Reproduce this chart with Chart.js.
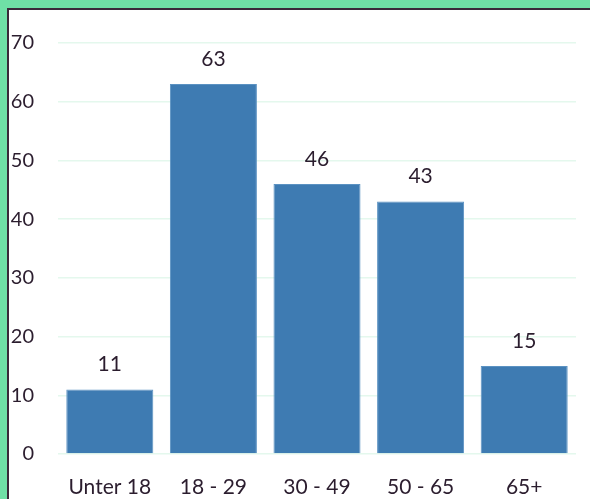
<!DOCTYPE html>
<html>
<head>
<meta charset="utf-8">
<script src="https://cdn.jsdelivr.net/npm/chart.js@4"></script>
<style>
  html, body { margin: 0; padding: 0; width: 590px; height: 499px; overflow: hidden; background: #6fe0a6; }
  #box { position: absolute; left: 7px; top: 8px; width: 700px; height: 600px; background: #fff; border: 2px solid #3a2a3a; }
  #wrap { position: absolute; left: 0; top: 0; width: 590px; height: 499px; }
</style>
</head>
<body>
<div id="box"></div>
<div id="wrap"><canvas id="chart" width="590" height="499"></canvas></div>
<script>
// age groups and counts
var categories = ['Unter 18', '18 - 29', '30 - 49', '50 - 65', '65+'];
var counts = [11, 63, 46, 43, 15];
var yTicks = [0, 10, 20, 30, 40, 50, 60, 70];

var textColor = '#2b1d2e';
var fontFamily = 'Lato, "Noto Sans", sans-serif';

// writes the value above every bar
var valueLabels = {
  id: 'valueLabels',
  afterDatasetsDraw: function(chart) {
    var ctx = chart.ctx;
    var meta = chart.getDatasetMeta(0);
    ctx.save();
    ctx.fillStyle = textColor;
    ctx.font = '21px ' + fontFamily;
    ctx.textAlign = 'center';
    ctx.textBaseline = 'middle';
    meta.data.forEach(function(bar, i) {
      ctx.fillText(String(counts[i]), bar.x, bar.y - 25);
    });
    ctx.restore();
  }
};

new Chart(document.getElementById('chart'), {
  type: 'bar',
  data: {
    labels: categories,
    datasets: [{
      data: counts,
      backgroundColor: '#3e7bb2',
      borderColor: '#5b92c2',
      borderWidth: 1,
      barPercentage: 0.84,
      categoryPercentage: 1
    }]
  },
  options: {
    responsive: false,
    animation: false,
    devicePixelRatio: 1,
    layout: { padding: { left: 0, right: 14, top: 43, bottom: 0 } },
    plugins: { legend: { display: false }, tooltip: { enabled: false } },
    scales: {
      x: {
        grid: { display: false, drawTicks: false },
        border: { display: false },
        ticks: { color: textColor, font: { family: fontFamily, size: 21 }, padding: 21, autoSkip: false, maxRotation: 0 },
        afterFit: function(s) { s.height = 45; }
      },
      y: {
        min: 0,
        max: 70,
        afterBuildTicks: function(s) { s.ticks = yTicks.map(function(v) { return { value: v }; }); },
        grid: { color: '#e4f8ed', lineWidth: 1.5, drawTicks: false },
        border: { display: false },
        ticks: { color: textColor, font: { family: fontFamily, size: 20 }, padding: 24, autoSkip: false },
        afterFit: function(s) { s.width = 58; }
      }
    }
  },
  plugins: [valueLabels]
});
</script>
</body>
</html>
